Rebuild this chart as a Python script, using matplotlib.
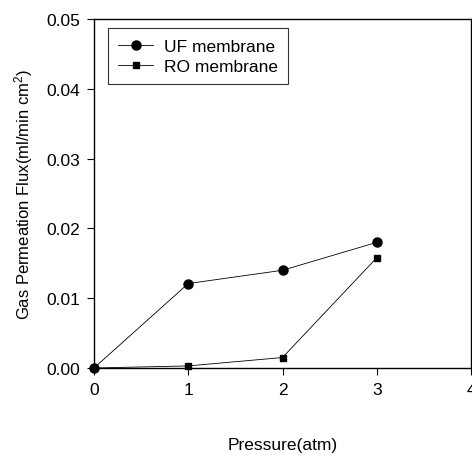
import matplotlib
matplotlib.use("Agg")
import matplotlib.pyplot as plt

# data
pressure = [0, 1, 2, 3]
uf_flux = [0.0, 0.0121, 0.0140, 0.0180]
ro_flux = [0.0, 0.0003, 0.0015, 0.0158]
x_ticks = [0, 1, 2, 3, 4]
y_ticks = [0.00, 0.01, 0.02, 0.03, 0.04, 0.05]

plt.rcParams['font.family'] = ['Liberation Sans', 'DejaVu Sans']
plt.rcParams['mathtext.fontset'] = 'custom'
plt.rcParams['mathtext.rm'] = 'Liberation Sans'
plt.rcParams['mathtext.it'] = 'Liberation Sans'

fig = plt.figure(figsize=(4.72, 4.60), dpi=100)
ax = fig.add_axes([94 / 472, 91 / 460, 377 / 472, 349 / 460])

ax.plot(pressure, uf_flux, color='black', lw=0.6, marker='o', ms=6.5,
        label='UF membrane', clip_on=False, zorder=3)
ax.plot(pressure, ro_flux, color='black', lw=0.6, marker='s', ms=4.5,
        label='RO membrane', clip_on=False, zorder=3)

ax.set_xlim(0, 4)
ax.set_ylim(0, 0.05)
ax.set_xticks(x_ticks)
ax.set_yticks(y_ticks)
ax.set_xticklabels([str(t) for t in x_ticks])
ax.set_yticklabels(['%.2f' % t for t in y_ticks])
ax.tick_params(direction='out', length=5, width=0.8, labelsize=12.5, pad=5)

for s in ax.spines.values():
    s.set_linewidth(1.0)

ax.set_xlabel('Pressure(atm)', fontsize=12.5, labelpad=29)
ax.set_ylabel(r'Gas Permeation Flux(ml/min cm$^2$)', fontsize=12, labelpad=8)

leg = ax.legend(loc='upper left', bbox_to_anchor=(0.037, 0.974), fontsize=12.5,
                frameon=True, fancybox=False, edgecolor='black',
                handlelength=2.0, handletextpad=0.6, borderpad=0.6,
                labelspacing=0.3, borderaxespad=0)
leg.get_frame().set_linewidth(0.8)

fig.savefig('out.png', dpi=100)
